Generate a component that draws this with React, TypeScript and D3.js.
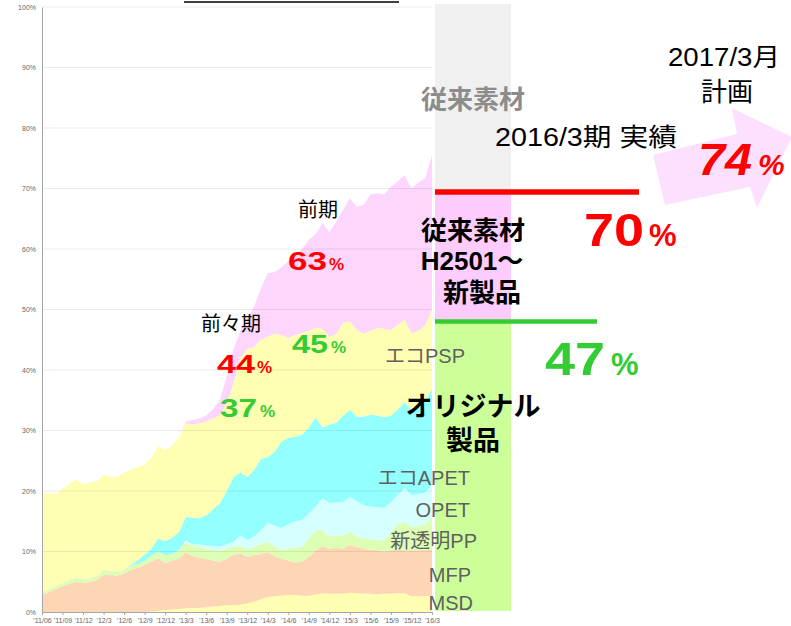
import React, { useEffect, useRef } from 'react';
import * as d3 from 'd3';

// quarterly tick labels, one every 3 months
const quarterLabels = ["'11/06", "'11/09", "'11/12", "'12/3", "'12/6", "'12/9", "'12/12", "'13/3", "'13/6", "'13/9",
  "'13/12", "'14/3", "'14/6", "'14/9", "'14/12", "'15/3", "'15/6", "'15/9", "'15/12", "'16/3"];
const yTicks = [0, 10, 20, 30, 40, 50, 60, 70, 80, 90, 100];

// monthly share (%) per product group, 2011/06 .. 2016/03
const msd = [0, 0, 0, 0, 0, 0, 0, 0, 0, 0, 0, 0, 0, 0, 0, 0,
  0.1, 0.2, 0.3, 0.4, 0.5, 0.6, 0.6, 0.7, 0.8, 0.9, 1.0, 1.1, 1.1, 1.2, 1.4, 1.7, 2.1, 2.5, 2.6, 2.7, 2.8, 2.8, 2.7, 2.7,
  2.9, 3.1, 3.0, 3.0, 3.0, 3.2, 3.1, 3.0, 3.0, 2.9, 3.0, 3.0, 3.1, 3.1, 2.6, 2.6, 2.6, 2.7];
const mfp = [2.8, 3.3, 3.8, 4.3, 4.7, 5.0, 4.8, 5.0, 5.3, 6.1, 6.1, 6.0, 6.4, 7.0, 7.3, 7.8, 8.3, 8.7, 7.8, 8.1,
  8.3, 9.3, 8.6, 8.3, 8.0, 7.6, 7.3, 7.7, 8.4, 8.5, 7.7, 7.7, 7.5, 7.4, 6.6, 6.1, 5.7, 5.4, 5.6, 6.4,
  7.3, 7.8, 7.4, 7.6, 7.5, 7.9, 7.6, 7.5, 7.3, 7.3, 7.0, 7.2, 7.2, 7.1, 7.6, 7.6, 7.6, 7.6];
const newPP = [0.5, 0.5, 0.5, 0.5, 0.6, 0.8, 0.5, 0.6, 0.6, 0.9, 0.7, 0.6, 0.6, 0.6, 0.7, 0.7, 0.9, 1.1, 1.3, 1.1,
  1.4, 1.6, 1.8, 1.8, 1.7, 1.8, 1.8, 1.7, 1.3, 1.3, 1.2, 1.4, 1.6, 1.7, 1.6, 1.5, 2.0, 2.4, 2.5, 3.1,
  3.3, 2.6, 2.1, 2.1, 2.1, 2.2, 1.8, 1.7, 1.7, 1.7, 1.8, 3.0, 4.2, 4.7, 3.8, 4.0, 4.3, 5.3];
const opet = [0, 0, 0, 0, 0, 0, 0, 0, 0, 0, 0, 0, 0, 0, 0, 0, 0, 0, 0, 0, 0,
  0.3, 0.2, 0.4, 0.5, 0.6, 0.7, 0.7, 0.8, 1.7, 1.6, 1.7, 2.3, 3.1, 3.5, 3.6, 4.0, 4.4, 4.4, 4.1, 4.0,
  5.3, 5.5, 5.4, 5.6, 5.7, 5.8, 5.5, 5.4, 5.4, 5.4, 5.0, 4.8, 5.6, 5.3, 5.3, 5.2, 5.4];
const ecoApet = [0, 0, 0, 0, 0, 0, 0, 0, 0, 0, 0, 0, 0,
  0.2, 0.6, 1.0, 1.2, 2.2, 2.3, 2.7, 3.0,
  3.9, 4.4, 4.3, 5.0, 6.1, 7.2, 8.8, 10.7, 10.4, 10.4, 11.0, 11.8, 10.9, 12.2, 14.3, 14.3, 14.0, 14.1, 14.2, 14.7,
  11.7, 13.0, 13.2, 14.3, 14.4, 14.0, 14.6, 15.2, 15.2, 15.0, 14.3, 14.2, 14.2, 14.1, 14.5, 15.3, 15.8];
const ecoPsp = [16.4, 15.9, 15.2, 15.5, 15.9, 16.1, 15.8, 15.8, 15.7, 15.7, 15.6, 15.7, 16.0, 15.7, 15.4, 14.8, 15.0, 15.2, 15.1, 15.2, 15.6,
  15.5, 15.4, 15.7, 15.5, 15.0, 14.5, 14.5, 15.5, 18.9, 21.2, 20.3, 19.7, 19.9, 19.5, 17.6, 16.5, 16.8, 16.8, 16.0, 14.8,
  16.3, 14.5, 14.7, 15.3, 14.6, 14.3, 13.7, 13.9, 14.5, 14.6, 14.1, 14.0, 13.6, 12.6, 12.5, 12.4, 13.2];
const newMat = [0, 0, 0, 0, 0, 0, 0, 0, 0, 0, 0, 0, 0, 0, 0, 0, 0, 0, 0, 0, 0,
  0.3, 0.7, 0.8, 1.0, 1.5, 2.5, 4.5, 5.7, 4.5, 5.0, 6.7, 8.5, 10.5, 10.2, 11.2, 12.7, 13.2, 13.9, 15.0, 15.5,
  17.5, 17.3, 18.5, 18.7, 20.4, 20.4, 21.3, 22.5, 22.2, 22.2, 23.7, 23.7, 23.9, 24.0, 24.5, 24.3, 25.5];

const keys = ['msd', 'mfp', 'newPP', 'opet', 'ecoApet', 'ecoPsp', 'newMat'];
const colors: Record<string, string> = {
  msd: '#ffffb3', mfp: '#fdd6b6', newPP: '#ddffb5', opet: '#d6ffff',
  ecoApet: '#93ffff', ecoPsp: '#ffffb3', newMat: '#fdd6fd',
};

const CJK = '"Noto Sans CJK JP", sans-serif';
const LAT = '"Liberation Sans", "Noto Sans CJK JP", sans-serif';

// big "NN%" label: number stretched to the width seen, smaller % after it
function Pct(props: { x: number, y: number, num: string, w: number, size: number, px: number, psize: number, color: string, italic?: boolean }) {
  const st = props.italic ? 'italic' : 'normal';
  return (
    <g fill={props.color} fontFamily={LAT} fontWeight="bold" fontStyle={st}>
      <text x={props.x} y={props.y} fontSize={props.size} textLength={props.w} lengthAdjust="spacingAndGlyphs">{props.num}</text>
      <text x={props.px} y={props.y} fontSize={props.psize}>%</text>
    </g>
  );
}

function App() {
  const svgRef = useRef<SVGSVGElement>(null);

  const width = 791;
  const height = 626;
  const left = 42, right = 432, top = 7, bottom = 612;

  useEffect(() => {
    const svg = d3.select(svgRef.current);
    const g = svg.select('.chart');
    g.selectAll('*').remove();

    const rows = msd.map((_, i) => ({
      i, msd: msd[i], mfp: mfp[i], newPP: newPP[i], opet: opet[i],
      ecoApet: ecoApet[i], ecoPsp: ecoPsp[i], newMat: newMat[i],
    }));

    const xScale = d3.scaleLinear().domain([0, rows.length - 1]).range([left, right]);
    const yScale = d3.scaleLinear().domain([0, 100]).range([bottom, top]);

    const layers = d3.stack<any>().keys(keys)(rows);
    const area = d3.area<any>()
      .x(d => xScale(d.data.i))
      .y0(d => yScale(d[0]))
      .y1(d => yScale(d[1]));

    g.selectAll('path.layer')
      .data(layers)
      .join('path')
      .attr('class', 'layer')
      .attr('d', d => area(d))
      .attr('fill', d => colors[d.key]);

    // gridlines over the areas
    g.selectAll('line.grid')
      .data(yTicks.filter(t => t > 0))
      .join('line')
      .attr('class', 'grid')
      .attr('x1', left).attr('x2', right)
      .attr('y1', d => yScale(d)).attr('y2', d => yScale(d))
      .attr('stroke', 'rgba(0,0,0,0.08)')
      .attr('stroke-width', 1.2);

    const yAxis = d3.axisLeft(yScale)
      .tickValues(yTicks)
      .tickSize(0)
      .tickPadding(6)
      .tickFormat(d => d + '%');
    const ya = g.append('g').attr('transform', `translate(${left},0)`).call(yAxis);
    ya.select('.domain').attr('stroke', '#a6a6a6');
    ya.selectAll('text').attr('font-size', 7).attr('fill', '#666').attr('font-family', LAT);

    const xAxis = d3.axisBottom(xScale)
      .tickValues(quarterLabels.map((_, k) => k * 3))
      .tickSize(3)
      .tickPadding(3)
      .tickFormat((d, k) => quarterLabels[k]);
    const xa = g.append('g').attr('transform', `translate(0,${bottom})`).call(xAxis);
    xa.select('.domain').attr('stroke', '#a6a6a6');
    xa.selectAll('line').attr('stroke', '#a6a6a6');
    xa.selectAll('text').attr('font-size', 7).attr('fill', '#666').attr('font-family', LAT);
  }, []);

  const grayLbl = { fontFamily: LAT, fontSize: 20, fill: '#606060', textAnchor: 'end' as const };
  // Latin face first keeps the line box tight; the kana/kanji fall back to Noto CJK
  const boldLbl = { fontFamily: LAT, fontWeight: 'bold', fill: '#000', textAnchor: 'middle' as const };

  return (
    <svg ref={svgRef} width={width} height={height}
      style={{ position: 'absolute', left: 0, top: 0, background: '#fff' }}>
      <rect width={width} height={height} fill="#fff" />
      <g className="chart"></g>

      {/* cropped title underline */}
      <line x1={184} x2={399} y1={2} y2={2} stroke="#000" strokeWidth={1.5} />

      {/* right band */}
      <rect x={435} y={4} width={76} height={186} fill="#f0f0f0" />
      <rect x={435} y={190} width={76} height={132} fill="#fccdfc" />
      <rect x={435} y={322} width={76} height={289} fill="#ccff99" />
      <line x1={435} x2={639} y1={192} y2={192} stroke="#ff0000" strokeWidth={5.5} />
      <line x1={435} x2={597} y1={321.5} y2={321.5} stroke="#33cc33" strokeWidth={4.5} />

      {/* arrow */}
      <polygon points="653,155 737,134 732,108 792,137 757,208 750,187 665,205" fill="#fde0fd" />

      <text x={473} y={109} fontFamily={CJK} fontSize={26} fontWeight="bold" fill="#8c8c8c" textAnchor="middle">従来素材</text>
      <text x={495} y={146} fontFamily={LAT} fontSize={25} fill="#000" textLength={182} lengthAdjust="spacingAndGlyphs">2016/3期 実績</text>
      <text x={668} y={66} fontFamily={LAT} fontSize={25} fill="#000" textLength={112} lengthAdjust="spacingAndGlyphs">2017/3月</text>
      <text x={727} y={101} fontFamily={CJK} fontSize={26} fill="#000" textAnchor="middle">計画</text>

      <Pct x={698} y={175} num="74" w={54} size={44} px={758} psize={30} color="#ff0000" italic />
      <Pct x={584} y={246} num="70" w={60} size={46} px={649} psize={31} color="#ff0000" />
      <Pct x={545} y={375} num="47" w={60} size={46} px={611} psize={31} color="#33cc33" />

      <text x={473} y={240} fontSize={26} {...boldLbl}>従来素材</text>
      <text x={472} y={270} fontSize={26} {...boldLbl}>H2501～</text>
      <text x={482} y={302} fontSize={26} {...boldLbl}>新製品</text>
      <text x={473} y={416} fontSize={27} {...boldLbl}>オリジナル</text>
      <text x={473} y={450} fontSize={27} {...boldLbl}>製品</text>

      <text x={465} y={363} {...grayLbl}>エコPSP</text>
      <text x={470} y={485} {...grayLbl}>エコAPET</text>
      <text x={470} y={517} {...grayLbl}>OPET</text>
      <text x={477} y={548} {...grayLbl}>新透明PP</text>
      <text x={471} y={582} {...grayLbl}>MFP</text>
      <text x={473} y={610} {...grayLbl}>MSD</text>

      <text x={318} y={217} fontFamily={CJK} fontSize={20} fill="#000" textAnchor="middle">前期</text>
      <text x={231} y={331} fontFamily={CJK} fontSize={20} fill="#000" textAnchor="middle">前々期</text>
      <Pct x={288} y={270} num="63" w={39} size={26} px={329} psize={17} color="#ff0000" />
      <Pct x={217} y={373} num="44" w={38} size={26} px={257} psize={17} color="#ff0000" />
      <Pct x={220} y={417} num="37" w={37} size={26} px={260} psize={17} color="#33cc33" />
      <Pct x={292} y={353} num="45" w={36} size={26} px={331} psize={17} color="#33cc33" />
    </svg>
  );
}

export default App;
